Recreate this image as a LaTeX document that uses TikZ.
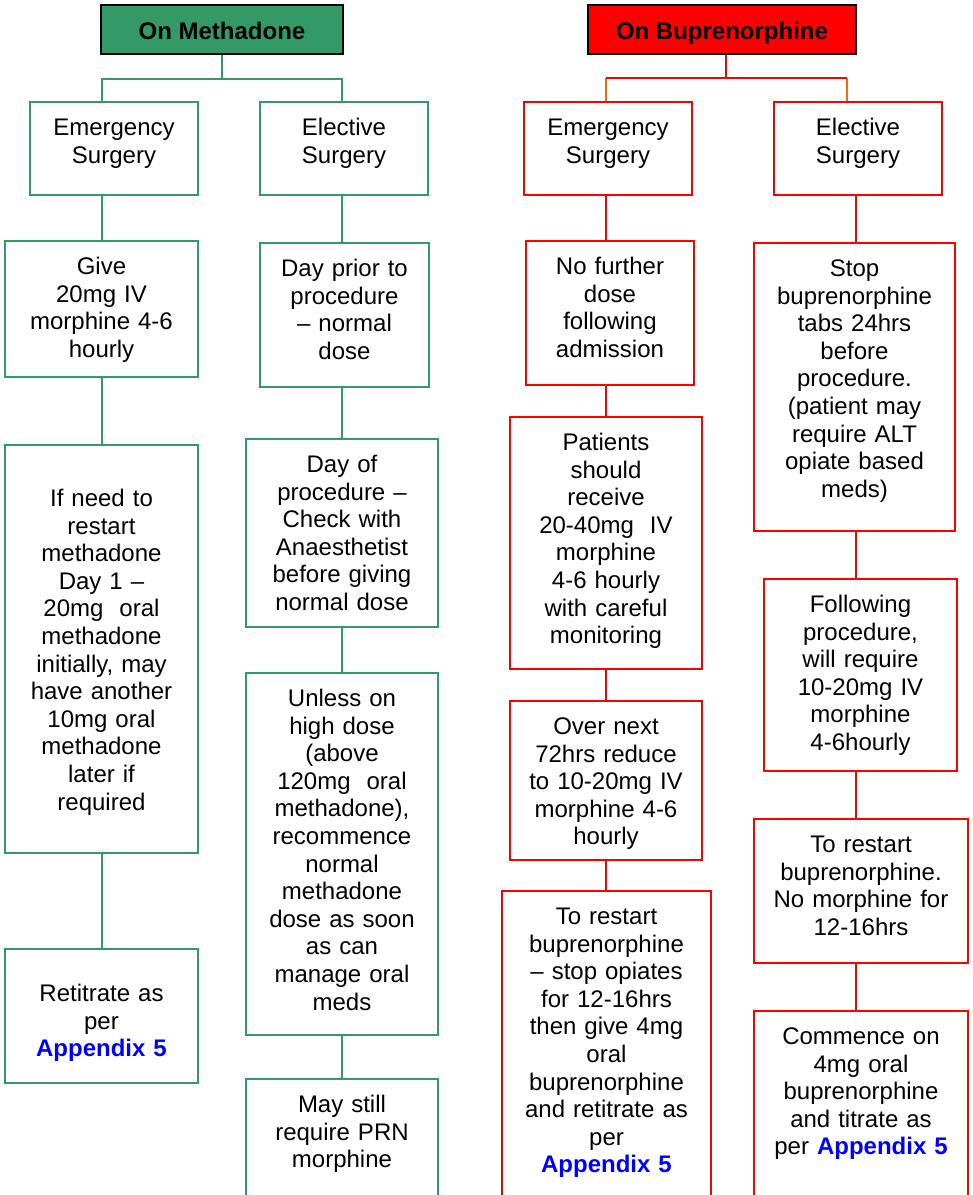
\documentclass[tikz,border=0pt]{standalone}
\usepackage{fontspec}
\setmainfont{Liberation Sans}
\definecolor{methgreen}{HTML}{339966}
\definecolor{bupred}{HTML}{FF0000}
\definecolor{droporange}{HTML}{FF6600}
\definecolor{applink}{HTML}{0000FF}
\newcommand{\appfive}{\textcolor{applink}{\textbf{Appendix 5}}}

\begin{document}
\begin{tikzpicture}[x=1pt,y=-1pt,
	head/.style={draw=black,line width=1.6pt,minimum height=49pt,inner sep=0pt,text height=19.2pt,text depth=0pt,font=\fontsize{24}{27.6}\selectfont\bfseries},
	card/.style={draw,line width=1.6pt,anchor=north,align=center,inner xsep=4pt,inner ysep=15.6pt,text height=18pt,text width=#1pt-8pt,font=\fontsize{24}{27.6}\selectfont},
	gcard/.style={card=#1,draw=methgreen},
	rcard/.style={card=#1,draw=bupred},
	gline/.style={methgreen,line width=1.6pt},
	rline/.style={bupred,line width=1.6pt},
	oline/.style={droporange,line width=1.6pt}]
	\useasboundingbox (0,0) rectangle (973,1195);
	\clip (0,0) rectangle (973,1195);

	% column spines
	\coordinate (m1) at (102,0);
	\coordinate (m2) at (342,0);
	\coordinate (b1) at (606,0);
	\coordinate (b2) at (856,0);
	\coordinate (bdrop) at (847,0);

	% methadone side
	\node[head,fill=methgreen,minimum width=242pt] (meth) at (222,29.5) {On Methadone};
	\node[gcard=168,text depth=43.8pt] (emergM) at (114,101) {Emergency\\Surgery};
	\node[gcard=168,text depth=43.8pt] (electM) at (344,101) {Elective\\Surgery};
	\node[gcard=193,text depth=86.8pt] (give) at (101.5,240) {Give\\20mg IV\\morphine 4-6\\hourly};
	\node[gcard=193,text height=46pt,text depth=330.8pt] (restart) at (101.5,444) {If need to\\restart\\methadone\\Day 1 –\\20mg~~oral\\methadone\\initially, may\\have another\\10mg oral\\methadone\\later if\\required};
	\node[gcard=193,text height=37pt,text depth=65.8pt] (retitrate) at (101.5,948) {Retitrate as\\per\\\appfive};
	\node[gcard=169,text depth=94.8pt] (dayprior) at (344.5,242) {Day prior to\\procedure\\– normal\\dose};
	\node[gcard=192,text depth=138.8pt] (dayof) at (342,438) {Day of\\procedure –\\Check with\\Anaesthetist\\before giving\\normal dose};
	\node[gcard=192,text depth=312.8pt] (unless) at (342,672) {Unless on\\high dose\\(above\\120mg~~oral\\methadone),\\recommence\\normal\\methadone\\dose as soon\\as can\\manage oral\\meds};
	\node[gcard=192,text depth=70.8pt] (maystill) at (342,1078) {May still\\require PRN\\morphine};

	\draw[gline] (meth.south) -- ++(0,24) coordinate (mbar);
	\draw[gline] (m1 |- emergM.north) -- (m1 |- mbar) -- (m2 |- mbar) -- (m2 |- electM.north);
	\foreach \a/\b in {emergM/give, give/restart, restart/retitrate}
		\draw[gline] (m1 |- \a.south) -- (m1 |- \b.north);
	\foreach \a/\b in {electM/dayprior, dayprior/dayof, dayof/unless, unless/maystill}
		\draw[gline] (m2 |- \a.south) -- (m2 |- \b.north);

	% buprenorphine side
	\node[head,fill=bupred,minimum width=268pt] (bup) at (722,29.5) {On Buprenorphine};
	\node[rcard=168,text depth=43.8pt] (emergB) at (608,101) {Emergency\\Surgery};
	\node[rcard=168,text depth=43.8pt] (electB) at (858,101) {Elective\\Surgery};
	\node[rcard=168,text depth=94.8pt] (nofurther) at (610,240) {No further\\dose\\following\\admission};
	\node[rcard=192,text depth=202.8pt] (patients) at (606,416) {Patients\\should\\receive\\20-40mg~~IV\\morphine\\4-6 hourly\\with careful\\monitoring};
	\node[rcard=192,text depth=109.8pt] (overnext) at (606,700) {Over next\\72hrs reduce\\to 10-20mg IV\\morphine 4-6\\hourly};
	\node[rcard=209,text depth=258.8pt] (restartB) at (606.5,890) {To restart\\buprenorphine\\– stop opiates\\for 12-16hrs\\then give 4mg\\oral\\buprenorphine\\and retitrate as\\per\\\appfive};
	\node[rcard=201,text depth=238.8pt] (stop) at (854.5,242) {Stop\\buprenorphine\\tabs 24hrs\\before\\procedure.\\(patient may\\require ALT\\opiate based\\meds)};
	\node[rcard=193,text depth=142.8pt] (following) at (860.5,578) {Following\\procedure,\\will require\\10-20mg IV\\morphine\\4-6hourly};
	\node[rcard=214,text depth=94.8pt] (torestart) at (861,818) {To restart\\buprenorphine.\\No morphine for\\12-16hrs};
	\node[rcard=214,text depth=138.8pt] (commence) at (861,1010) {Commence on\\4mg oral\\buprenorphine\\and titrate as\\per \appfive};

	\coordinate (bbar) at (726,78);
	\draw[oline] (b1 |- bbar) -- (b1 |- emergB.north);
	\draw[oline] (bdrop |- bbar) -- (bdrop |- electB.north);
	\draw[rline] (bbar |- bup.south) -- (bbar);
	\draw[rline] (b1 |- bbar) -- (bdrop |- bbar);
	\foreach \a/\b in {emergB/nofurther, nofurther/patients, patients/overnext, overnext/restartB}
		\draw[rline] (b1 |- \a.south) -- (b1 |- \b.north);
	\foreach \a/\b in {electB/stop, stop/following, following/torestart, torestart/commence}
		\draw[rline] (b2 |- \a.south) -- (b2 |- \b.north);
\end{tikzpicture}
\end{document}
